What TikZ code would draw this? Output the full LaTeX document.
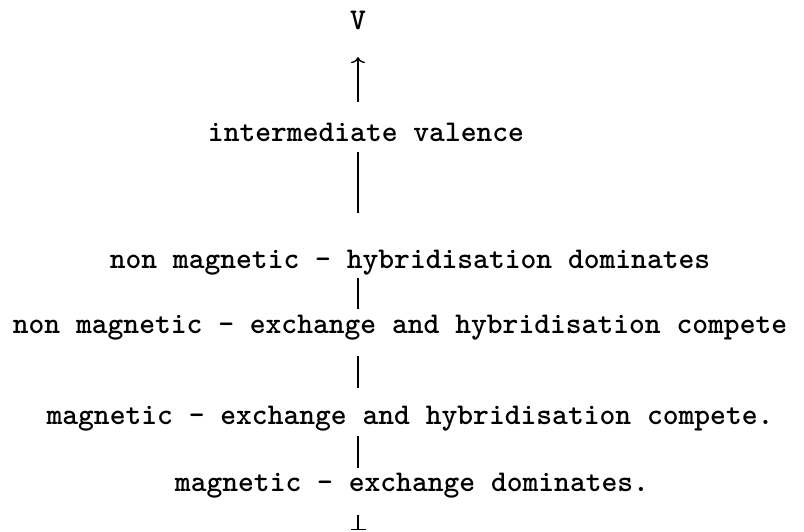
\documentclass[tikz,border=0pt]{standalone}
\usetikzlibrary{arrows.meta,positioning}

\begin{document}
\begin{tikzpicture}[
  x=1pt, y=1pt,
  regime/.style={font=\fontsize{30.1}{36}\selectfont\ttfamily\bfseries,
    inner sep=0pt, text height=20pt, text depth=7pt, anchor=base},
  link/.style={draw=black, line width=1.4pt}
]
\useasboundingbox (0,0) rectangle (804,-532);
\coordinate (axis) at (358,0);
\node[regime] (v) at (358,-30) {V};
\node[regime] (iv) at (366,-142) {intermediate valence};
\node[regime] (nmhyb) at (410,-269) {non magnetic - hybridisation dominates};
\node[regime] (nmcomp) at (400,-333) {non magnetic - exchange and hybridisation compete};
\node[regime] (mcomp) at (410,-424) {magnetic - exchange and hybridisation compete.};
\node[regime] (mexch) at (412,-491) {magnetic - exchange dominates.};
\coordinate (foot) at (358,-530);
\draw[link, -{To[length=6pt,width=14pt]}, shorten <=20pt, shorten >=20pt]
  (iv.north -| axis) -- (v.south -| axis);
\draw[link, shorten <=3pt, shorten >=36pt] (iv.south -| axis) -- (nmhyb.north -| axis);
\draw[link, shorten <=2pt, shorten >=4pt] (nmhyb.south -| axis) -- (nmcomp.north -| axis);
\draw[link, shorten <=16pt, shorten >=16pt] (nmcomp.south -| axis) -- (mcomp.north -| axis);
\draw[link, shorten <=5pt, shorten >=3pt] (mcomp.south -| axis) -- (mexch.north -| axis);
\draw[link, -{Bar[width=15pt]}, shorten <=17pt] (mexch.south -| axis) -- (foot);
\end{tikzpicture}
\end{document}
